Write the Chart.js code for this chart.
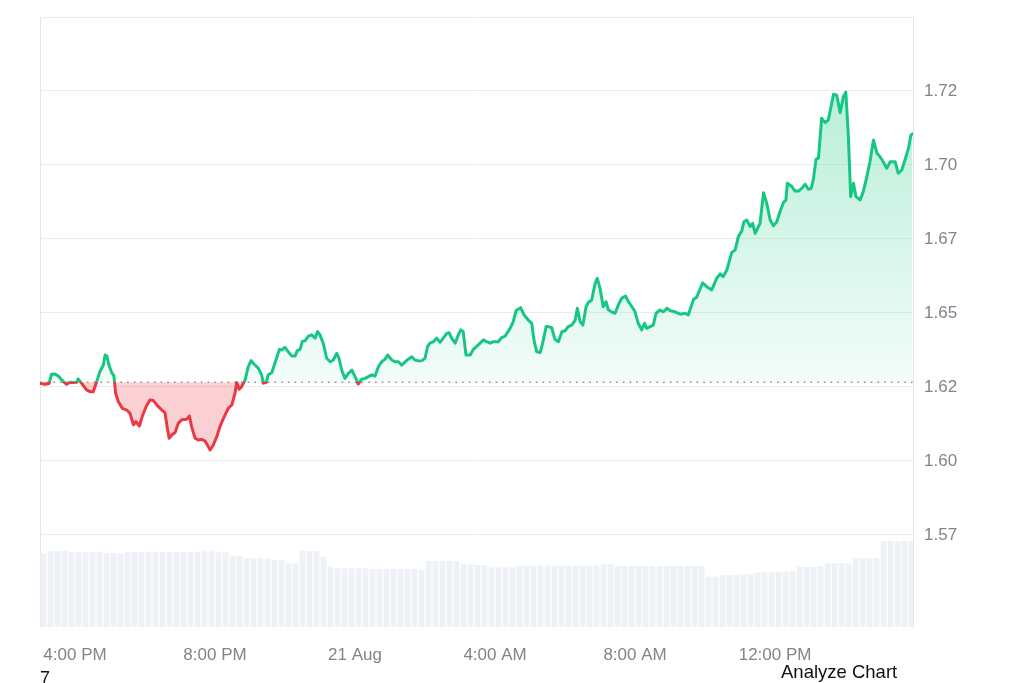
<!DOCTYPE html>
<html>
<head>
<meta charset="utf-8">
<script src="https://cdn.jsdelivr.net/npm/chart.js@4.4.1/dist/chart.umd.min.js"></script>
<style>
html,body{margin:0;padding:0;background:#fff;}
#wrap{position:relative;width:1024px;height:683px;overflow:hidden;}
canvas{display:block;}
.note{position:absolute;font-family:"Liberation Sans",Arial,sans-serif;color:#111;line-height:1;white-space:nowrap;}
</style>
</head>
<body>
<div id="wrap">
<canvas id="c" width="1024" height="683"></canvas>
<div class="note" style="left:40px;top:669px;font-size:18px;">7</div>
<div class="note" style="left:781px;top:662.5px;font-size:18.5px;">Analyze Chart</div>
</div>
<script>
// hours after 3:00 PM (20 Aug)
const hours = [0.03,0.14,0.26,0.33,0.43,0.52,0.67,0.76,0.86,0.95,1.05,1.09,1.19,1.33,1.43,1.52,1.62,1.71,1.81,1.86,1.91,1.97,2.05,2.11,2.16,2.24,2.35,2.48,2.57,2.67,2.74,2.84,2.92,3.03,3.14,3.24,3.36,3.48,3.57,3.64,3.69,3.79,3.86,3.95,4.05,4.19,4.27,4.33,4.43,4.52,4.62,4.71,4.81,4.86,4.95,5.05,5.14,5.24,5.38,5.48,5.57,5.62,5.69,5.76,5.86,5.95,6.03,
6.09,6.24,6.33,6.38,6.46,6.52,6.62,6.71,6.84,6.91,7.00,7.09,7.19,7.29,7.35,7.43,7.49,7.57,7.67,7.76,7.86,7.93,8.00,8.09,8.19,8.29,8.38,8.48,8.54,8.62,8.71,8.81,8.91,9.00,9.09,9.19,9.29,9.38,9.48,9.57,9.67,9.76,9.86,9.93,10.05,10.14,10.24,10.33,10.43,10.52,10.62,10.71,10.81,10.91,11.00,11.07,11.14,11.24,11.33,11.43,11.52,11.62,11.69,11.76,11.86,11.95,12.02,12.09,
12.17,12.29,12.38,12.52,12.67,12.76,12.86,12.95,13.09,13.19,13.29,13.43,13.52,13.60,13.73,13.83,13.95,14.05,14.11,14.19,14.29,14.36,14.46,14.52,14.62,14.71,14.81,14.91,15.00,15.09,15.19,15.29,15.35,15.43,15.51,15.60,15.67,15.76,15.86,15.92,16.00,16.09,16.17,16.24,16.33,16.43,16.52,16.62,16.73,16.81,16.91,17.00,17.09,17.19,17.27,17.33,17.43,17.52,17.60,17.71,17.81,17.91,18.00,18.14,18.29,
18.43,18.52,18.67,18.76,18.93,19.05,19.19,19.33,19.43,19.52,19.62,19.76,19.86,19.95,20.05,20.11,20.19,20.29,20.36,20.43,20.57,20.67,20.76,20.86,20.95,21.05,21.14,21.24,21.31,21.35,21.48,21.57,21.67,21.76,21.86,21.95,22.03,22.09,22.17,22.24,22.33,22.43,22.52,22.67,22.76,22.86,22.95,23.02,23.09,23.16,23.24,23.31,23.43,23.52,23.62,23.71,23.81,23.91,24.00,24.09,24.19,24.29,24.43,24.52,24.62,24.71,24.81,24.88,24.93];

const prices = [1.6262,1.6259,1.6262,1.6293,1.6294,1.6287,1.6268,1.6259,1.6266,1.6265,1.6266,1.6277,1.6262,1.6240,1.6234,1.6234,1.6268,1.6302,1.6324,1.6358,1.6355,1.6324,1.6298,1.6288,1.6229,1.6200,1.6178,1.6172,1.6161,1.6122,1.6133,1.6118,1.6150,1.6183,1.6206,1.6204,1.6186,1.6172,1.6163,1.6110,1.6077,1.6090,1.6096,1.6127,1.6139,1.6141,1.6152,1.6116,1.6077,1.6071,1.6073,1.6068,1.6048,1.6037,1.6054,1.6082,1.6116,1.6144,1.6178,1.6189,1.6229,1.6265,1.6242,1.6251,1.6274,1.6319,1.6339,
1.6330,1.6313,1.6291,1.6263,1.6265,1.6291,1.6298,1.6330,1.6377,1.6375,1.6384,1.6369,1.6355,1.6355,1.6373,1.6377,1.6403,1.6406,1.6422,1.6426,1.6415,1.6437,1.6426,1.6398,1.6347,1.6335,1.6341,1.6364,1.6347,1.6307,1.6279,1.6296,1.6307,1.6285,1.6260,1.6276,1.6279,1.6285,1.6291,1.6287,1.6319,1.6335,1.6344,1.6358,1.6341,1.6335,1.6335,1.6324,1.6335,1.6344,1.6352,1.6341,1.6338,1.6339,1.6347,1.6386,1.6398,1.6403,1.6415,1.6401,1.6415,1.6431,1.6433,1.6415,1.6398,1.6426,1.6443,1.6437,
1.6358,1.6358,1.6377,1.6392,1.6409,1.6403,1.6398,1.6403,1.6403,1.6417,1.6422,1.6448,1.6471,1.6508,1.6518,1.6493,1.6476,1.6465,1.6409,1.6369,1.6366,1.6398,1.6454,1.6454,1.6450,1.6411,1.6403,1.6437,1.6440,1.6454,1.6459,1.6476,1.6516,1.6471,1.6459,1.6521,1.6536,1.6544,1.6600,1.6617,1.6583,1.6521,1.6538,1.6510,1.6504,1.6499,1.6527,1.6550,1.6557,1.6538,1.6521,1.6504,1.6465,1.6443,1.6465,1.6448,1.6454,1.6459,1.6499,1.6510,1.6504,1.6516,1.6508,1.6504,1.6496,
1.6499,1.6493,1.6546,1.6553,1.6602,1.6589,1.6578,1.6617,1.6632,1.6623,1.6645,1.6704,1.6713,1.6758,1.6778,1.6808,1.6814,1.6792,1.6803,1.6769,1.6803,1.6906,1.6871,1.6814,1.6795,1.6808,1.6842,1.6873,1.6882,1.6938,1.6927,1.6912,1.6912,1.6921,1.6935,1.6918,1.6921,1.6949,1.7019,1.7024,1.7158,1.7143,1.7152,1.7239,1.7236,1.7177,1.7231,1.7246,1.7107,1.6893,1.6938,1.6893,1.6882,1.6910,1.6960,1.7011,1.7084,1.7040,1.7028,1.7011,1.6989,1.7011,1.7011,1.6972,1.6983,1.7017,1.7056,1.7101,1.7105];

const openPrice = 1.6266;

const volumeHours = [0.1,0.3,0.5,0.7,0.9,1.1,1.3,1.5,1.7,1.9,2.1,2.3,2.5,2.7,2.9,3.1,3.3,3.5,3.7,3.9,4.1,4.3,4.5,4.7,4.9,5.1,5.3,5.5,5.7,5.9,6.1,6.3,6.5,6.7,6.9,7.1,7.3,7.5,7.7,7.9,8.1,8.3,8.5,8.7,8.9,9.1,9.3,9.5,9.7,9.9,10.1,10.3,10.5,10.7,10.9,11.1,11.3,11.5,11.7,11.9,12.1,12.3,12.5,12.7,12.9,13.1,13.3,13.5,13.7,13.9,14.1,14.3,14.5,14.7,14.9,15.1,15.3,15.5,15.7,15.9,16.1,16.3,16.5,16.7,16.9,17.1,17.3,17.5,17.7,17.9,18.1,18.3,18.5,18.7,18.9,19.1,19.3,19.5,19.7,19.9,20.1,20.3,20.5,20.7,20.9,21.1,21.3,21.5,21.7,21.9,22.1,22.3,22.5,22.7,22.9,23.1,23.3,23.5,23.7,23.9,24.1,24.3,24.5,24.7,24.9];

const volumes = [120.8,124.6,124.6,124.6,122.5,122.5,122.5,122.5,122.5,120.8,120.8,120.8,123.4,123.4,123.4,123.4,123.4,123.4,123.4,123.4,123.4,123.4,123.4,125.1,125.1,122.5,122.5,116.9,116.9,112.6,112.6,112.6,112.6,109.8,109.8,104.4,104.4,124.6,124.6,124.6,115.2,98.9,96.2,96.2,96.2,96.2,96.2,95.1,95.1,95.1,95.1,95.1,95.1,95.1,93.4,108.2,108.2,108.2,108.2,108.2,103.3,103.3,101.6,101.6,97.9,97.9,97.9,97.9,100.5,100.5,100.5,100.5,100.5,100.5,100.5,100.5,100.5,100.5,100.5,100.5,103.3,103.3,100,100,100,100,100,100,100,100,100,100,100,100,100,82.5,82.5,85.2,85.2,85.2,86.5,87,89.7,89.7,89.7,90.5,91,92,98.9,98.9,98.9,100,104.4,104.4,104.4,104.4,112.6,112.6,112.6,113,141,141,141,141,141];

const yTickValues = [1.575,1.6,1.625,1.65,1.675,1.7,1.725,1.75];
const yTickLabels = ['1.57','1.60','1.62','1.65','1.67','1.70','1.72',''];
const xTickValues = [1,5,9,13,17,21];
const xTickLabels = ['4:00 PM','8:00 PM','21 Aug','4:00 AM','8:00 AM','12:00 PM'];

const GREEN = '#16c784';
const RED = '#ea3943';
const AXIS_COLOR = '#80848c';
const FONT = {family:'"Liberation Sans", Arial, sans-serif', size:17};

function lineStroke(chart){
  const {ctx, chartArea, scales} = chart;
  if(!chartArea || !scales.y) return GREEN;
  const yb = scales.y.getPixelForValue(openPrice);
  const f = Math.min(1, Math.max(0, (yb - chartArea.top)/(chartArea.bottom - chartArea.top)));
  const g = ctx.createLinearGradient(0, chartArea.top, 0, chartArea.bottom);
  g.addColorStop(0, GREEN); g.addColorStop(f, GREEN);
  g.addColorStop(f, RED); g.addColorStop(1, RED);
  return g;
}
function aboveFill(chart){
  const {ctx, chartArea, scales} = chart;
  if(!chartArea || !scales.y) return 'rgba(22,199,132,0.15)';
  const yb = scales.y.getPixelForValue(openPrice);
  const g = ctx.createLinearGradient(0, scales.y.getPixelForValue(1.725), 0, yb);
  g.addColorStop(0, 'rgba(22,199,132,0.30)');
  g.addColorStop(1, 'rgba(22,199,132,0.05)');
  return g;
}

const framePlugin = {
  id:'frame',
  beforeDatasetsDraw(chart){
    const {ctx, chartArea} = chart;
    ctx.save();
    ctx.strokeStyle = '#e6e6e6';
    ctx.lineWidth = 1;
    ctx.beginPath();
    ctx.moveTo(chartArea.left + 0.5, chartArea.top);
    ctx.lineTo(chartArea.left + 0.5, chartArea.bottom);
    ctx.stroke();
    ctx.restore();
  }
};

new Chart(document.getElementById('c'), {
  type:'line',
  data:{
    datasets:[
      {
        type:'line', label:'Price',
        data: hours.map((h,i)=>({x:h, y:prices[i]})),
        yAxisID:'y', order:0,
        borderWidth:3, pointRadius:0, pointHoverRadius:0, tension:0,
        borderJoinStyle:'round', borderCapStyle:'round',
        borderColor: c => lineStroke(c.chart),
        backgroundColor: c => aboveFill(c.chart),
        fill:{value: openPrice, below:'rgba(234,57,67,0.24)'}
      },
      {
        type:'line', label:'Open',
        data:[{x:0, y:openPrice},{x:24.94, y:openPrice}],
        yAxisID:'y', order:1,
        borderColor:'#8f959c', borderWidth:1.6, borderDash:[1.6,5.1],
        pointRadius:0, fill:false
      },
      {
        type:'bar', label:'Volume',
        data: volumeHours.map((h,i)=>({x:h, y:volumes[i]})),
        yAxisID:'yv', order:2,
        backgroundColor:'#eef2f6', borderWidth:0,
        barPercentage:0.84, categoryPercentage:1, grouped:false
      }
    ]
  },
  options:{
    responsive:false, animation:false, maintainAspectRatio:false,
    layout:{padding:{left:40, top:17, right:0, bottom:0}},
    plugins:{legend:{display:false}, tooltip:{enabled:false}},
    events:[],
    scales:{
      x:{
        type:'linear', min:0, max:24.94, offset:false,
        afterBuildTicks: s => { s.ticks = xTickValues.map(v=>({value:v})); },
        afterFit: s => { s.height = 56; s.paddingLeft = 0; s.paddingRight = 0; },
        grid:{display:false, drawTicks:false},
        border:{display:false},
        ticks:{padding:18, autoSkip:false, maxRotation:0, color:AXIS_COLOR, font:FONT,
          callback:(v,i)=>xTickLabels[i]}
      },
      y:{
        type:'linear', position:'right', min:1.5439, max:1.75,
        afterBuildTicks: s => { s.ticks = yTickValues.map(v=>({value:v})); },
        afterFit: s => { s.width = 111; s.paddingTop = 0; s.paddingBottom = 0; },
        grid:{color:'#ececec', lineWidth:1, drawTicks:false},
        border:{display:true, color:'#e6e6e6'},
        ticks:{padding:11, color:AXIS_COLOR, font:FONT, autoSkip:false,
          callback:(v,i)=>yTickLabels[i]}
      },
      yv:{
        type:'linear', display:false, min:0, max:1000
      }
    }
  },
  plugins:[framePlugin]
});
</script>
</body>
</html>
